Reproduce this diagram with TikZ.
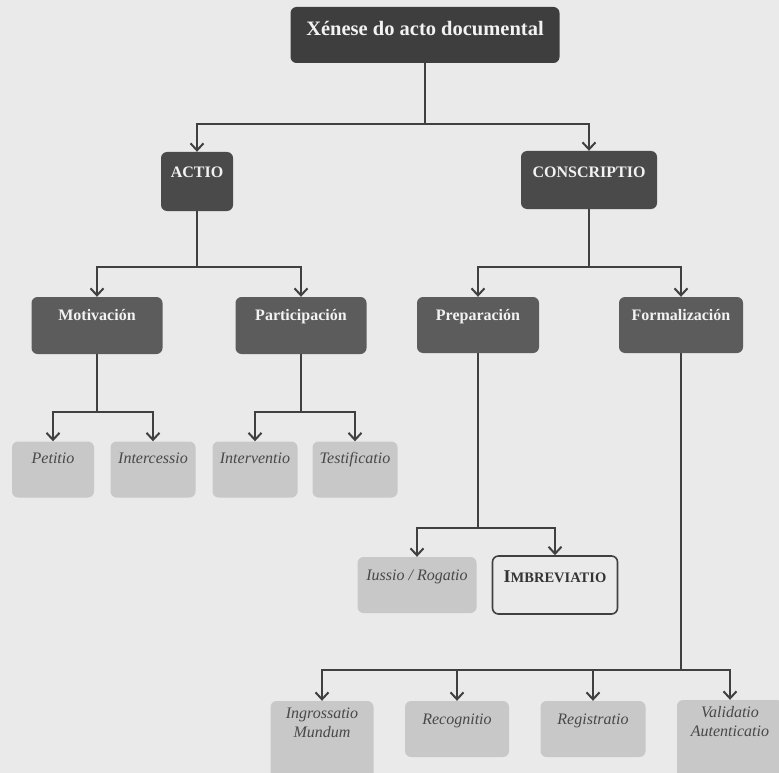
\documentclass[tikz,border=0pt]{standalone}
\usepackage{fontspec}
\setmainfont{Liberation Serif}
\usetikzlibrary{arrows.meta}
\definecolor{bg}{RGB}{234,234,234}
\definecolor{dkA}{RGB}{62,62,62}
\definecolor{dkB}{RGB}{74,74,74}
\definecolor{dkC}{RGB}{92,92,92}
\definecolor{lt}{RGB}{200,200,200}
\definecolor{lttext}{RGB}{72,72,72}
\definecolor{ln}{RGB}{64,64,64}
\definecolor{dtext}{RGB}{242,242,242}
\begin{document}
\begin{tikzpicture}[x=1pt,y=-1pt,
  box/.style={rounded corners=6pt, inner xsep=0pt, inner ysep=0pt, align=center},
  darkbox/.style={box, fill=dkC, text=dtext, font=\bfseries\fontsize{16}{19}\selectfont},
  lightbox/.style={box, fill=lt, text=lttext, font=\itshape\fontsize{16}{19}\selectfont},
  lighttext/.style={text=lttext, font=\itshape\fontsize{16}{19}\selectfont, inner sep=0pt, align=center},
  conn/.style={draw=ln, line width=2pt},
  arr/.style={conn, -{Straight Barb[length=7pt,width=13pt]}}
]
\fill[bg] (0,0) rectangle (779,773);
\useasboundingbox (0,0) rectangle (779,773);

% level 0
\node[darkbox, fill=dkA, font=\bfseries\fontsize{20.5}{24}\selectfont,
      minimum width=269pt, text height=29pt, text depth=27pt] (top) at (425,35) {Xénese do acto documental};

% level 1
\node[darkbox, fill=dkB, font=\bfseries\fontsize{16}{19}\selectfont,
      minimum width=72pt, text height=26pt, text depth=33pt] (actio) at (197,181.5) {ACTIO};
\node[darkbox, fill=dkB, font=\bfseries\fontsize{16}{19}\selectfont,
      minimum width=136pt, text height=26pt, text depth=32pt] (conscr) at (589,180) {CONSCRIPTIO};

% level 2
\node[darkbox, minimum width=131pt, text height=23pt, text depth=34pt] (motiv) at (97,325.5) {Motivación};
\node[darkbox, minimum width=131pt, text height=23pt, text depth=34pt] (partic) at (301,325.5) {Participación};
\node[darkbox, minimum width=122pt, text height=23pt, text depth=33pt] (prep) at (478,325) {Preparación};
\node[darkbox, minimum width=124pt, text height=23pt, text depth=33pt] (formal) at (681,325) {Formalización};

% level 3
\node[lightbox, minimum width=82pt, text height=22pt, text depth=34pt] (petitio) at (53,469.5) {Petitio};
\node[lightbox, minimum width=85pt, text height=22pt, text depth=34pt] (interc) at (153,469.5) {Intercessio};
\node[lightbox, minimum width=85pt, text height=22pt, text depth=34pt] (interv) at (255,469.5) {Interventio};
\node[lightbox, minimum width=85pt, text height=22pt, text depth=34pt] (testif) at (355,469.5) {Testificatio};

\node[lightbox, minimum width=119pt, text height=23pt, text depth=33pt] (iussio) at (417,585) {Iussio / Rogatio};
\node[box, draw=ln, line width=1.6pt, fill=bg, text=black!80, font=\bfseries,
      minimum width=125pt, text height=26pt, text depth=32pt] (imbrev) at (555,585)
      {{\fontsize{18}{21}\selectfont I}{\fontsize{14.5}{17}\selectfont MBREVIATIO}};

% level 4
\node[box, fill=lt, minimum width=103pt, minimum height=86pt] (ingross) at (322,744) {};
\node[lighttext, anchor=base] (ingrosst) at ([yshift=-37pt]ingross.north) {Ingrossatio\\Mundum};
\node[lightbox, minimum width=104pt, text height=23pt, text depth=33pt] (recog) at (457,729) {Recognitio};
\node[lightbox, minimum width=105pt, text height=23pt, text depth=33pt] (regis) at (593,729) {Registratio};
\node[box, fill=lt, minimum width=106pt, minimum height=86pt] (valid) at (730,743) {};
\node[lighttext, anchor=base] (validt) at ([yshift=-37pt]valid.north) {Validatio\\Autenticatio};

% junctions
\coordinate (j0) at (425,124);
\coordinate (ja) at (197,267);
\coordinate (jc) at (589,267);
\coordinate (jm) at (97,412);
\coordinate (jp) at (301,412);
\coordinate (jr) at (478,528);
\coordinate (jf) at (681,670);

% connectors
\draw[conn] (top.south) -- (j0);
\draw[arr] (j0) -| (actio.north);
\draw[arr] (j0) -| (conscr.north);

\draw[conn] (actio.south) -- (ja);
\draw[arr] (ja) -| (motiv.north);
\draw[arr] (ja) -| (partic.north);

\draw[conn] (conscr.south) -- (jc);
\draw[arr] (jc) -| (prep.north);
\draw[arr] (jc) -| (formal.north);

\draw[conn] (motiv.south) -- (jm);
\draw[arr] (jm) -| (petitio.north);
\draw[arr] (jm) -| (interc.north);

\draw[conn] (partic.south) -- (jp);
\draw[arr] (jp) -| (interv.north);
\draw[arr] (jp) -| (testif.north);

\draw[conn] (prep.south) -- (jr);
\draw[arr] (jr) -| (iussio.north);
\draw[arr] (jr) -| (imbrev.north);

\draw[conn] (formal.south) -- (jf);
\draw[arr] (jf) -| (ingross.north);
\draw[arr] (jf) -| (recog.north);
\draw[arr] (jf) -| (regis.north);
\draw[arr] (jf) -| (valid.north);
\end{tikzpicture}
\end{document}
